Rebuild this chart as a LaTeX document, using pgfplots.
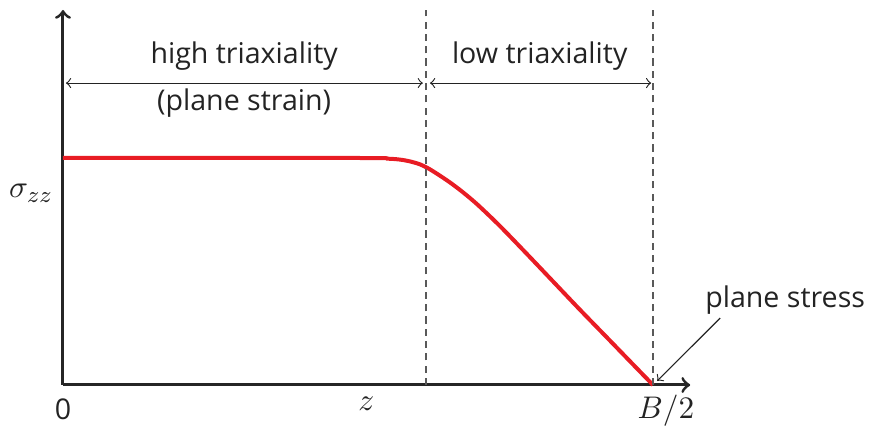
\documentclass[border=0pt]{standalone}
\usepackage{fontspec}
\setmainfont{Open Sans}
\usepackage{pgfplots}
\pgfplotsset{compat=1.18}
\definecolor{curvered}{RGB}{232,28,36}
\definecolor{txt}{RGB}{35,35,35}
\begin{document}
\begin{tikzpicture}
\useasboundingbox (-22.05pt,-14.7pt) rectangle (282.45pt,134.75pt);
\begin{axis}[
  x=206.5pt, y=79.45pt,
  xmin=0, xmax=1.063, ymin=0, ymax=1.652,
  enlargelimits=false,
  axis lines=left,
  axis line style={line width=1.05pt, color=black!85, ->},
  xtick=\empty, ytick=\empty,
  clip=false,
]
\addplot[curvered, line width=1.4pt, line join=round, smooth, tension=0.5] coordinates {
 (0,1.0) (0.50,1.0) (0.55,0.997) (0.571,0.993) (0.588,0.985) (0.605,0.972)
 (0.62,0.953) (0.639,0.922) (0.656,0.892) (0.673,0.859) (0.690,0.823) (0.707,0.784)
 (0.741,0.699) (0.786,0.578) (0.831,0.455) (0.876,0.332) (0.922,0.209) (0.966,0.091) (1.0,0)
};
\addplot[black!65, line width=0.5pt, dash pattern=on 2.5pt off 1.8pt] coordinates {(0.615,0) (0.615,1.652)};
\addplot[black!65, line width=0.5pt, dash pattern=on 2.5pt off 1.8pt] coordinates {(1.0,0) (1.0,1.652)};
\draw[<->, txt, line width=0.4pt] (axis cs:0.005,1.330) -- (axis cs:0.610,1.330);
\draw[<->, txt, line width=0.4pt] (axis cs:0.622,1.330) -- (axis cs:0.997,1.330);
\node[txt] at (axis cs:0.307,1.45) {high triaxiality};
\node[txt] at (axis cs:0.307,1.24) {(plane strain)};
\node[txt] at (axis cs:0.808,1.45) {low triaxiality};
\node[txt] at (axis cs:0,-0.105) {0};
\node[txt] at (axis cs:0.514,-0.084) {\fontsize{11}{13}\selectfont$z$};
\node[txt] at (axis cs:1.022,-0.115) {\fontsize{11}{13}\selectfont$B/2$};
\node[txt] at (axis cs:-0.054,0.846) {\fontsize{11}{13}\selectfont$\sigma_{zz}$};
\node[txt] at (axis cs:1.224,0.374) {plane stress};
\draw[->, txt, line width=0.4pt] (axis cs:1.114,0.295) -- (axis cs:1.007,0.018);
\end{axis}
\end{tikzpicture}
\end{document}
